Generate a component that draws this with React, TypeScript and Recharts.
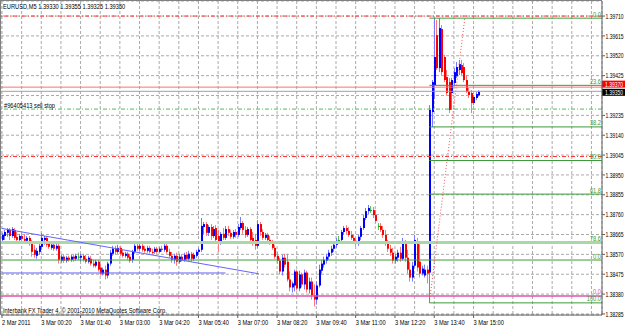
import { ComposedChart, Bar, XAxis, YAxis, CartesianGrid, ReferenceLine } from 'recharts';

// EURUSD M5, one tuple per bar: [open, high, low, close]
const ohlc: [number, number, number, number][] = [
  [1.38639, 1.38673, 1.38625, 1.38663], [1.38658, 1.38687, 1.38639, 1.38677], [1.38673, 1.38696, 1.38654, 1.38687],
  [1.38687, 1.38696, 1.38639, 1.38658], [1.38658, 1.38701, 1.38649, 1.38691], [1.38687, 1.38696, 1.38639, 1.38649],
  [1.38654, 1.38677, 1.38630, 1.38639], [1.38639, 1.38668, 1.38630, 1.38658], [1.38658, 1.38673, 1.38630, 1.38644],
  [1.38644, 1.38668, 1.38620, 1.38635], [1.38635, 1.38658, 1.38625, 1.38649], [1.38649, 1.38658, 1.38611, 1.38620],
  [1.38620, 1.38639, 1.38559, 1.38582], [1.38592, 1.38616, 1.38554, 1.38568], [1.38563, 1.38601, 1.38549, 1.38587],
  [1.38582, 1.38620, 1.38568, 1.38611], [1.38606, 1.38673, 1.38592, 1.38649], [1.38639, 1.38658, 1.38616, 1.38649],
  [1.38649, 1.38658, 1.38606, 1.38616], [1.38620, 1.38630, 1.38597, 1.38606], [1.38601, 1.38625, 1.38592, 1.38616],
  [1.38616, 1.38625, 1.38587, 1.38597], [1.38597, 1.38620, 1.38587, 1.38611], [1.38611, 1.38620, 1.38526, 1.38544],
  [1.38540, 1.38568, 1.38530, 1.38559], [1.38559, 1.38568, 1.38530, 1.38540], [1.38540, 1.38563, 1.38530, 1.38554],
  [1.38554, 1.38563, 1.38535, 1.38544], [1.38544, 1.38568, 1.38535, 1.38559], [1.38559, 1.38568, 1.38535, 1.38549],
  [1.38549, 1.38573, 1.38540, 1.38563], [1.38559, 1.38578, 1.38544, 1.38559], [1.38554, 1.38573, 1.38535, 1.38563],
  [1.38563, 1.38573, 1.38535, 1.38544], [1.38549, 1.38568, 1.38526, 1.38535], [1.38535, 1.38563, 1.38526, 1.38554],
  [1.38549, 1.38563, 1.38516, 1.38526], [1.38526, 1.38544, 1.38507, 1.38516], [1.38516, 1.38544, 1.38507, 1.38535],
  [1.38535, 1.38544, 1.38488, 1.38497], [1.38507, 1.38526, 1.38469, 1.38478], [1.38478, 1.38507, 1.38469, 1.38497],
  [1.38497, 1.38516, 1.38450, 1.38469], [1.38469, 1.38535, 1.38455, 1.38526], [1.38526, 1.38592, 1.38516, 1.38578],
  [1.38573, 1.38611, 1.38563, 1.38597], [1.38597, 1.38611, 1.38568, 1.38582], [1.38582, 1.38616, 1.38573, 1.38601],
  [1.38601, 1.38611, 1.38563, 1.38573], [1.38578, 1.38592, 1.38554, 1.38563], [1.38563, 1.38582, 1.38554, 1.38573],
  [1.38573, 1.38582, 1.38544, 1.38554], [1.38559, 1.38573, 1.38530, 1.38540], [1.38544, 1.38592, 1.38530, 1.38582],
  [1.38582, 1.38625, 1.38573, 1.38611], [1.38611, 1.38625, 1.38587, 1.38597], [1.38597, 1.38620, 1.38587, 1.38611],
  [1.38611, 1.38620, 1.38582, 1.38592], [1.38597, 1.38611, 1.38578, 1.38587], [1.38587, 1.38611, 1.38578, 1.38601],
  [1.38601, 1.38611, 1.38573, 1.38582], [1.38582, 1.38597, 1.38568, 1.38578], [1.38582, 1.38606, 1.38573, 1.38597],
  [1.38597, 1.38606, 1.38573, 1.38582], [1.38582, 1.38606, 1.38578, 1.38597], [1.38597, 1.38611, 1.38582, 1.38592],
  [1.38592, 1.38620, 1.38582, 1.38611], [1.38611, 1.38620, 1.38573, 1.38582], [1.38582, 1.38597, 1.38554, 1.38563],
  [1.38563, 1.38582, 1.38530, 1.38544], [1.38544, 1.38573, 1.38526, 1.38563], [1.38563, 1.38578, 1.38516, 1.38535],
  [1.38535, 1.38573, 1.38526, 1.38559], [1.38559, 1.38568, 1.38535, 1.38544], [1.38544, 1.38578, 1.38535, 1.38568],
  [1.38568, 1.38582, 1.38540, 1.38549], [1.38549, 1.38587, 1.38540, 1.38573], [1.38573, 1.38582, 1.38535, 1.38549],
  [1.38549, 1.38578, 1.38540, 1.38568], [1.38563, 1.38592, 1.38554, 1.38582], [1.38582, 1.38601, 1.38568, 1.38592],
  [1.38592, 1.38744, 1.38582, 1.38706], [1.38701, 1.38725, 1.38668, 1.38715], [1.38715, 1.38725, 1.38658, 1.38673],
  [1.38673, 1.38710, 1.38658, 1.38701], [1.38701, 1.38715, 1.38639, 1.38658], [1.38658, 1.38706, 1.38649, 1.38691],
  [1.38696, 1.38710, 1.38620, 1.38639], [1.38658, 1.38687, 1.38582, 1.38630], [1.38630, 1.38677, 1.38616, 1.38668],
  [1.38668, 1.38696, 1.38639, 1.38649], [1.38649, 1.38706, 1.38639, 1.38691], [1.38691, 1.38706, 1.38658, 1.38673],
  [1.38673, 1.38687, 1.38644, 1.38654], [1.38654, 1.38687, 1.38644, 1.38677], [1.38677, 1.38691, 1.38649, 1.38663],
  [1.38663, 1.38715, 1.38654, 1.38701], [1.38696, 1.38749, 1.38687, 1.38720], [1.38720, 1.38730, 1.38668, 1.38687],
  [1.38687, 1.38706, 1.38649, 1.38663], [1.38663, 1.38701, 1.38654, 1.38691], [1.38691, 1.38701, 1.38625, 1.38639],
  [1.38649, 1.38677, 1.38611, 1.38630], [1.38639, 1.38668, 1.38592, 1.38611], [1.38611, 1.38734, 1.38601, 1.38715],
  [1.38715, 1.38725, 1.38658, 1.38677], [1.38677, 1.38691, 1.38639, 1.38649], [1.38649, 1.38673, 1.38639, 1.38663],
  [1.38663, 1.38673, 1.38630, 1.38639], [1.38639, 1.38658, 1.38616, 1.38625], [1.38625, 1.38639, 1.38592, 1.38601],
  [1.38601, 1.38616, 1.38549, 1.38559], [1.38563, 1.38582, 1.38526, 1.38540], [1.38540, 1.38554, 1.38474, 1.38488],
  [1.38488, 1.38568, 1.38469, 1.38554], [1.38554, 1.38573, 1.38507, 1.38521], [1.38535, 1.38573, 1.38440, 1.38450],
  [1.38450, 1.38488, 1.38393, 1.38412], [1.38412, 1.38440, 1.38388, 1.38431], [1.38421, 1.38497, 1.38393, 1.38488],
  [1.38488, 1.38497, 1.38398, 1.38407], [1.38407, 1.38492, 1.38393, 1.38474], [1.38474, 1.38483, 1.38412, 1.38426],
  [1.38426, 1.38497, 1.38402, 1.38483], [1.38483, 1.38492, 1.38388, 1.38402], [1.38402, 1.38459, 1.38383, 1.38440],
  [1.38440, 1.38459, 1.38354, 1.38374], [1.38374, 1.38426, 1.38321, 1.38354], [1.38354, 1.38440, 1.38330, 1.38421],
  [1.38421, 1.38521, 1.38412, 1.38497], [1.38492, 1.38544, 1.38478, 1.38526], [1.38521, 1.38559, 1.38507, 1.38544],
  [1.38540, 1.38573, 1.38526, 1.38559], [1.38559, 1.38592, 1.38544, 1.38578], [1.38578, 1.38611, 1.38563, 1.38597],
  [1.38597, 1.38625, 1.38582, 1.38616], [1.38616, 1.38649, 1.38601, 1.38635], [1.38639, 1.38658, 1.38620, 1.38639],
  [1.38639, 1.38687, 1.38630, 1.38677], [1.38677, 1.38706, 1.38663, 1.38696], [1.38696, 1.38710, 1.38668, 1.38682],
  [1.38682, 1.38701, 1.38654, 1.38663], [1.38663, 1.38682, 1.38639, 1.38649], [1.38649, 1.38668, 1.38625, 1.38635],
  [1.38635, 1.38649, 1.38611, 1.38620], [1.38620, 1.38663, 1.38611, 1.38654], [1.38654, 1.38706, 1.38639, 1.38696],
  [1.38696, 1.38758, 1.38687, 1.38744], [1.38744, 1.38792, 1.38734, 1.38777], [1.38777, 1.38806, 1.38763, 1.38792],
  [1.38782, 1.38801, 1.38768, 1.38782], [1.38782, 1.38797, 1.38744, 1.38758], [1.38758, 1.38782, 1.38720, 1.38730],
  [1.38706, 1.38720, 1.38687, 1.38706], [1.38706, 1.38720, 1.38677, 1.38687], [1.38687, 1.38706, 1.38649, 1.38663],
  [1.38663, 1.38687, 1.38611, 1.38625], [1.38625, 1.38639, 1.38582, 1.38597], [1.38597, 1.38616, 1.38563, 1.38578],
  [1.38578, 1.38601, 1.38526, 1.38540], [1.38540, 1.38573, 1.38526, 1.38559], [1.38554, 1.38592, 1.38535, 1.38578],
  [1.38578, 1.38606, 1.38535, 1.38549], [1.38549, 1.38649, 1.38540, 1.38620], [1.38620, 1.38639, 1.38535, 1.38554],
  [1.38554, 1.38592, 1.38478, 1.38497], [1.38497, 1.38535, 1.38440, 1.38459], [1.38459, 1.38535, 1.38440, 1.38516],
  [1.38516, 1.38663, 1.38507, 1.38639], [1.38630, 1.38649, 1.38488, 1.38507], [1.38535, 1.38625, 1.38459, 1.38478],
  [1.38478, 1.38516, 1.38469, 1.38502], [1.38469, 1.38521, 1.38459, 1.38497], [1.38497, 1.38516, 1.38431, 1.38478],
  [1.38483, 1.39284, 1.38338, 1.39261], [1.39251, 1.39404, 1.39179, 1.39394], [1.39380, 1.39700, 1.39313, 1.39514],
  [1.39619, 1.39691, 1.39452, 1.39461], [1.39461, 1.39700, 1.39442, 1.39653], [1.39648, 1.39667, 1.39428, 1.39442],
  [1.39514, 1.39524, 1.39394, 1.39404], [1.39418, 1.39452, 1.39332, 1.39342], [1.39394, 1.39414, 1.39246, 1.39261],
  [1.39342, 1.39414, 1.39261, 1.39404], [1.39390, 1.39461, 1.39376, 1.39442], [1.39423, 1.39490, 1.39414, 1.39466],
  [1.39452, 1.39500, 1.39428, 1.39480], [1.39476, 1.39500, 1.39428, 1.39437], [1.39466, 1.39485, 1.39394, 1.39404],
  [1.39404, 1.39428, 1.39342, 1.39347], [1.39347, 1.39366, 1.39318, 1.39332], [1.39342, 1.39356, 1.39246, 1.39294],
  [1.39294, 1.39332, 1.39284, 1.39323], [1.39318, 1.39347, 1.39308, 1.39337], [1.39330, 1.39355, 1.39325, 1.39350],
];

const priceTicks = [
  1.38285, 1.38380, 1.38475, 1.38570, 1.38665, 1.38760, 1.38855, 1.38950,
  1.39045, 1.39140, 1.39235, 1.39330, 1.39425, 1.39520, 1.39615, 1.39710,
];
const gridBars = [0, 8, 16, 24, 32, 40, 48, 56, 64, 72, 80, 88, 96, 104, 112, 120, 128, 136, 144, 152, 160, 168, 176, 184, 192, 200, 208, 216, 224, 232, 240];
const labelBars = [0, 16, 32, 48, 64, 80, 96, 112, 128, 144, 160, 176, 192];
const timeLabels = [
  '2 Mar 2011', '3 Mar 00:20', '3 Mar 01:40', '3 Mar 03:00', '3 Mar 04:20', '3 Mar 05:40', '3 Mar 07:00',
  '3 Mar 08:20', '3 Mar 09:40', '3 Mar 11:00', '3 Mar 12:20', '3 Mar 13:40', '3 Mar 15:00',
];

// order + objects drawn on the chart
const askPrice = 1.3937;
const bidPrice = 1.3935;
const stopLoss = 1.3971;
const takeProfit = 1.39038;
const sellStop = 1.39265;
const fiboHigh = 1.397;
const fiboLow = 1.38338;
const fiboStartBar = 174;
const fiboLevels = [0, 23.6, 38.2, 50.0, 61.8, 100.0];
const fiboAnchor = [{ bar: 174, price: 1.38338 }, { bar: 188.5, price: 1.39705 }];
const trendLine = [{ bar: 0, price: 1.38694 }, { bar: 104.6, price: 1.38477 }];
const supportLine = { from: 0, to: 91, price: 1.38481 };
const wideGreen = { price: 1.38627, text: '78.6' };
const greenLine = { price: 1.38543, text: '0.0' };
const pinkLine = { price: 1.38371, text: '0.0' };

const X_MAX = 244.3;
const FONT = { fontFamily: '"Liberation Sans", Arial, sans-serif', fontSize: 7.5 };
const SX = 0.76;
const SX_AXIS = 0.67; // right price scale is tight against the window edge

function Candle(props: any) {
  const { x, y, width, height, payload } = props;
  if (!payload || height == null) return <g />;
  const { o, h, l, c } = payload;
  const k = h > l ? height / (h - l) : 0;
  const px = Math.round(x + width / 2);
  const yo = y + (h - o) * k;
  const yc = y + (h - c) * k;
  const up = c > o;
  const doji = c === o;
  const body = doji ? '#00b000' : up ? '#0000ff' : '#ff0000';
  const wick = doji ? '#60c060' : up ? '#7878ff' : '#ff7878';
  return (
    <g>
      <line x1={px + 0.5} x2={px + 0.5} y1={y} y2={y + height} stroke={wick} strokeWidth={1} />
      <rect x={px} y={Math.min(yo, yc)} width={2} height={Math.max(1, Math.abs(yc - yo))} fill={body} />
    </g>
  );
}

function PriceTick({ x, y, payload }: any) {
  if (payload.value === 1.3933) return <g />;
  return (
    <g>
      <line x1={x} x2={x + 3} y1={y} y2={y} stroke="#606060" />
      <text transform={`translate(${x + 3.5},${y + 2.6}) scale(${SX_AXIS},1)`} style={FONT} fill="#000">
        {payload.value.toFixed(5)}
      </text>
    </g>
  );
}

function TimeTick({ x, y, payload }: any) {
  const k = labelBars.indexOf(payload.value);
  if (k < 0) return <g />;
  return (
    <g>
      <line x1={x} x2={x} y1={y} y2={y + 3} stroke="#606060" />
      <text transform={`translate(${x},${y + 9.8}) scale(${SX},1)`} style={FONT} fill="#000">
        {timeLabels[k]}
      </text>
    </g>
  );
}

const rightLabel = (text: string, color: string) => (p: any) => {
  const vb = p.viewBox;
  return (
    <text transform={`translate(${vb.x + vb.width - 1},${vb.y - 1.5}) scale(${SX},1)`} textAnchor="end" style={FONT} fill={color}>
      {text}
    </text>
  );
};

const leftLabel = (text: string) => (p: any) => {
  const vb = p.viewBox;
  return (
    <text transform={`translate(${vb.x + 3},${vb.y - 1.5}) scale(${SX},1)`} style={FONT} fill="#000">
      {text}
    </text>
  );
};

// shift moves the box up (ask) or down (bid) so both labels stay readable
const priceBox = (text: string, bg: string, shift: number) => (p: any) => {
  const vb = p.viewBox;
  const x = vb.x + vb.width;
  const cy = vb.y + shift;
  return (
    <g>
      <rect x={x} y={cy - 3.5} width={23} height={7} fill={bg} />
      <text transform={`translate(${x + 3},${cy + 2.6}) scale(${SX_AXIS},1)`} style={FONT} fill="#fff">
        {text}
      </text>
    </g>
  );
};

export default function App() {
  const data = ohlc.map(([o, h, l, c], i) => ({ i, o, h, l, c }));
  const last = ohlc[ohlc.length - 1];
  const header = `EURUSD,M5  ${last.map((v) => v.toFixed(5)).join(' ')}`;

  return (
    <div style={{ position: 'relative', width: 625, height: 327, background: '#fff', overflow: 'hidden' }}>
      <style>{'body{margin:0}'}</style>
      <ComposedChart width={625} height={327} data={data} margin={{ top: 1, right: 0, bottom: 0, left: 1 }}>
        <CartesianGrid stroke="#aaaaaa" strokeDasharray="3 2" />
        <XAxis
          dataKey="i"
          type="number"
          domain={[-0.4, X_MAX]}
          allowDataOverflow
          ticks={gridBars}
          interval={0}
          tick={(p: any) => <TimeTick {...p} />}
          tickLine={false}
          tickSize={0}
          tickMargin={0}
          height={12}
          axisLine={{ stroke: '#606060' }}
        />
        <YAxis
          orientation="right"
          type="number"
          domain={[1.3828, 1.39782]}
          allowDataOverflow
          ticks={priceTicks}
          interval={0}
          tick={(p: any) => <PriceTick {...p} />}
          tickLine={false}
          tickSize={0}
          tickMargin={0}
          width={23}
          axisLine={{ stroke: '#606060' }}
        />

        <ReferenceLine y={wideGreen.price} stroke="#a8d8a8" strokeWidth={3} label={rightLabel(wideGreen.text, '#3a9a3a')} />
        <ReferenceLine y={greenLine.price} stroke="#3c9c3c" label={rightLabel(greenLine.text, '#3a9a3a')} />
        <ReferenceLine y={pinkLine.price} stroke="#e050a8" strokeWidth={1.5} label={rightLabel(pinkLine.text, '#e050a8')} />
        <ReferenceLine
          segment={[{ x: supportLine.from, y: supportLine.price }, { x: supportLine.to, y: supportLine.price }]}
          stroke="#6464ff"
        />
        <ReferenceLine
          segment={trendLine.map((p) => ({ x: p.bar, y: p.price }))}
          stroke="#6464ff"
        />
        <ReferenceLine y={stopLoss} stroke="#ff3030" strokeDasharray="4 2 1 2" />
        <ReferenceLine y={takeProfit} stroke="#ff3030" strokeDasharray="4 2 1 2" />
        <ReferenceLine y={sellStop} stroke="#50c050" strokeDasharray="4 2 1 2" label={leftLabel('#96405413 sell stop')} />
        {fiboLevels.map((lv) => {
          const price = fiboHigh - (lv / 100) * (fiboHigh - fiboLow);
          return (
            <ReferenceLine
              key={lv}
              segment={[{ x: fiboStartBar, y: price }, { x: X_MAX, y: price }]}
              stroke="#3c9c3c"
              label={rightLabel(lv.toFixed(1), '#3a9a3a')}
            />
          );
        })}
        <ReferenceLine
          segment={fiboAnchor.map((p) => ({ x: p.bar, y: p.price }))}
          stroke="#ff5050"
          strokeDasharray="1 2"
        />
        <ReferenceLine y={askPrice} stroke="#ff7070" label={priceBox(askPrice.toFixed(5), '#ff0000', -3)} />
        <ReferenceLine y={bidPrice} stroke="#a0a0a0" label={priceBox(bidPrice.toFixed(5), '#000000', 1)} />

        <Bar
          dataKey={(d: any) => [d.l, d.h]}
          shape={(p: any) => <Candle {...p} />}
          barSize={2}
          isAnimationActive={false}
        />
      </ComposedChart>
      <svg width={625} height={327} style={{ position: 'absolute', left: 0, top: 0, pointerEvents: 'none' }}>
        <line x1={0} x2={602} y1={0.5} y2={0.5} stroke="#808080" />
        <line x1={0.5} x2={0.5} y1={0} y2={315} stroke="#808080" />
        <text transform={`translate(3,9) scale(${SX},1)`} style={FONT} fill="#000">{header}</text>
        <text transform={`translate(3,313) scale(${SX},1)`} style={FONT} fill="#000">
          Interbank FX Trader 4, © 2001-2010 MetaQuotes Software Corp.
        </text>
      </svg>
    </div>
  );
}
